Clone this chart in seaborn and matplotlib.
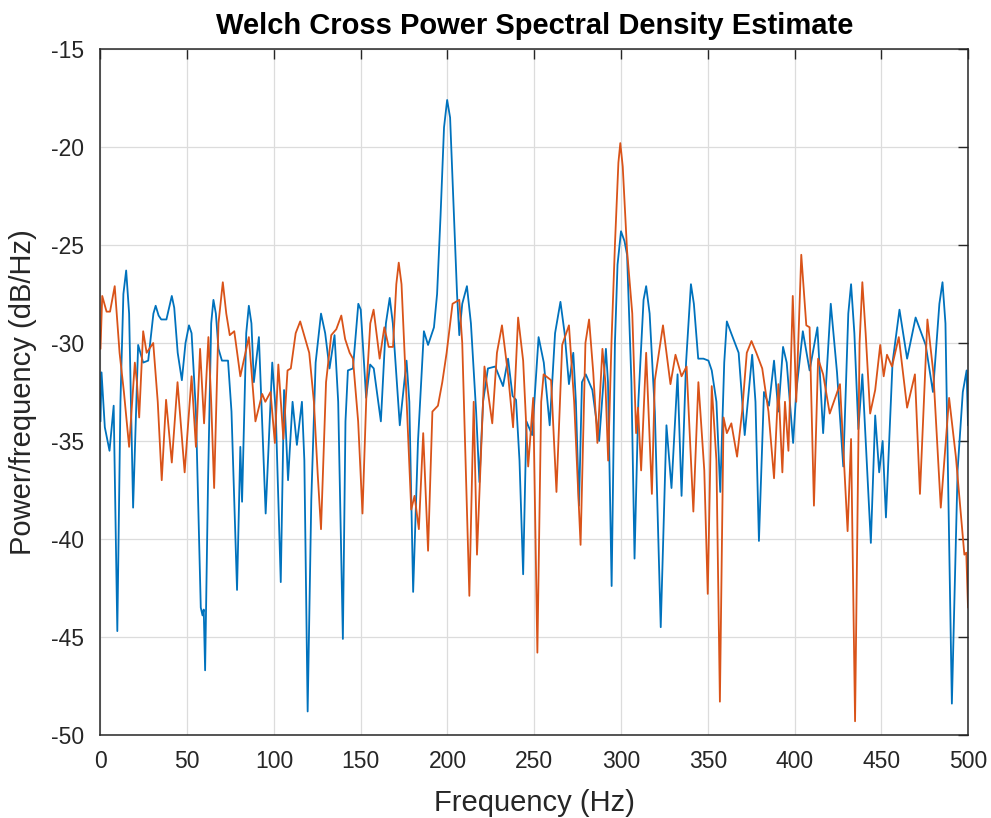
import pandas as pd
import matplotlib.pyplot as plt
import seaborn as sns

# blue curve (Pxy, first channel)
freq_a = [0, 0.6, 2.5, 5.2, 7.6, 9.7, 11.5, 13.2, 14.8, 16.5, 18.8, 21.7, 24.6, 27.5, 30.5, 31.8,
          33.5, 35.0, 38.0, 41.1, 42.5, 44.5, 46.9, 49.0, 51.0, 52.5, 55.0, 57.8, 58.8, 59.5, 60.3,
          62.0, 63.8, 65.1, 66.5, 68.0, 70.0, 73.5, 75.5, 78.7, 80.6, 81.6, 84.0, 85.5, 87.0, 88.4,
          91.3, 95.2, 99.0, 101.0, 103.9, 105.8, 108.1, 110.7, 113.2, 116.1, 117.5, 119.4, 121.5,
          124.0, 127.1, 129.5, 132.0, 134.9, 137.0, 139.7, 141.2, 142.6, 145.5, 148.6, 150.0,
          151.5, 153.1, 155.4, 157.5, 161.6, 164.5, 166.7, 168.5, 172.5, 176.4, 178.0, 180.2,
          183.0, 186.4, 188.8, 192.2, 194.0, 196.0, 198.0, 199.8, 201.5, 203.5, 205.5, 206.8,
          208.5, 211.2, 213.5, 216.5, 218.4, 220.5, 223.3, 227.5, 232.0, 234.9, 237.5, 239.5,
          241.5, 243.6, 245.5, 248.8, 252.5, 255.5, 258.9, 262.0, 265.1, 267.5, 270.0, 272.5,
          274.0, 275.8, 277.5, 279.7, 283.5, 287.4, 291.3, 292.5, 294.6, 296.5, 298.0, 300.0,
          302.0, 303.5, 306.0, 307.8, 310.0, 313.0, 314.5, 316.5, 319.5, 322.9, 326.2, 329.1,
          332.6, 334.9, 337.5, 340.3, 342.0, 344.5, 347.5, 350.4, 352.3, 355.0, 357.2, 359.5,
          361.0, 363.5, 367.8, 371.3, 375.6, 377.5, 379.5, 382.4, 385.3, 388.2, 390.7, 393.4,
          395.5, 399.2, 401.0, 404.8, 408.7, 413.2, 416.5, 420.9, 424.5, 428.1, 431.0, 432.6,
          434.5, 436.8, 439.1, 444.0, 446.5, 448.8, 450.8, 452.7, 456.5, 460.5, 464.9, 469.8,
          475.6, 479.8, 483.5, 485.3, 487.0, 490.7, 494.0, 497.0, 499.2, 500.0]
pxy_a = [-34.0, -31.5, -34.3, -35.5, -33.2, -44.7, -33.0, -27.5, -26.3, -28.5, -38.4, -30.1,
         -31.0, -30.9, -28.5, -28.1, -28.6, -28.8, -28.8, -27.6, -28.2, -30.5, -31.9, -30.0,
         -29.1, -29.5, -33.5, -43.5, -43.9, -43.6, -46.7, -37.0, -29.0, -27.8, -28.5, -30.3,
         -30.9, -30.9, -33.5, -42.6, -35.3, -38.1, -29.5, -28.1, -29.0, -32.0, -29.7, -38.7,
         -31.0, -33.5, -42.2, -32.4, -37.0, -33.0, -35.2, -33.0, -36.0, -48.8, -38.0, -31.0,
         -28.5, -29.5, -31.3, -29.6, -33.0, -45.1, -34.0, -31.4, -31.3, -28.0, -28.3, -30.5,
         -32.8, -31.1, -31.3, -34.0, -29.0, -27.7, -29.0, -34.2, -30.9, -33.0, -42.7, -35.0,
         -29.4, -30.1, -29.2, -27.5, -23.5, -19.0, -17.6, -18.5, -23.0, -27.5, -29.6, -28.0,
         -27.1, -29.0, -33.5, -37.1, -33.0, -31.3, -31.2, -32.2, -30.8, -32.7, -32.9, -36.0,
         -41.8, -34.0, -34.7, -29.7, -31.0, -34.2, -29.5, -27.9, -29.5, -32.1, -30.5, -33.0,
         -38.3, -32.0, -31.6, -32.4, -35.0, -30.3, -32.0, -42.4, -30.0, -26.0, -24.3, -24.8,
         -25.5, -32.0, -41.0, -33.0, -27.8, -27.1, -28.5, -33.5, -44.5, -34.2, -37.4, -31.6,
         -37.8, -31.0, -27.0, -28.0, -30.8, -30.8, -30.9, -31.4, -33.0, -37.6, -31.0, -28.9,
         -29.5, -30.5, -34.7, -30.6, -33.0, -40.1, -32.5, -33.2, -30.9, -33.5, -30.2, -31.0,
         -35.1, -32.5, -29.4, -31.4, -29.2, -34.6, -28.0, -31.5, -36.3, -28.5, -27.0, -29.5,
         -34.4, -31.6, -40.2, -33.7, -36.6, -35.0, -38.9, -31.0, -28.3, -30.8, -28.7, -30.1,
         -32.5, -28.0, -26.9, -29.0, -48.4, -36.5, -32.5, -31.4, -34.2]

# orange curve (second channel)
freq_b = [0, 1.0, 3.5, 5.5, 8.2, 11.0, 13.5, 16.5, 19.8, 21.0, 22.3, 24.6, 26.6, 30.4, 33.0,
          35.3, 37.8, 41.1, 44.4, 48.5, 52.5, 55.0, 57.4, 59.7, 62.2, 63.8, 65.5, 68.0, 70.5,
          72.5, 74.5, 77.1, 80.6, 85.5, 89.3, 93.2, 95.0, 98.0, 100.5, 102.5, 105.4, 107.8,
          109.7, 112.5, 115.1, 118.0, 120.3, 123.0, 125.2, 127.1, 130.0, 133.0, 135.9, 138.8,
          141.0, 143.6, 145.5, 148.5, 151.0, 153.5, 155.5, 157.4, 160.9, 163.6, 166.1, 168.6,
          170.5, 171.9, 173.5, 175.5, 179.1, 181.0, 183.5, 186.0, 188.8, 191.3, 194.5, 197.0,
          199.5, 202.9, 206.8, 208.5, 212.6, 215.1, 217.0, 221.3, 225.8, 228.5, 231.4, 234.9,
          237.8, 240.7, 243.6, 246.5, 249.4, 251.8, 254.0, 255.4, 259.7, 262.8, 266.1, 270.0,
          273.0, 276.7, 279.5, 281.6, 284.0, 286.4, 289.3, 291.0, 292.6, 294.5, 296.5, 298.5,
          299.6, 301.0, 303.5, 306.5, 308.7, 309.8, 311.6, 314.5, 317.8, 319.5, 324.2, 328.5,
          331.4, 334.9, 337.8, 341.7, 344.6, 348.0, 350.0, 352.3, 355.0, 357.0, 359.1, 361.0,
          363.6, 366.9, 369.8, 372.5, 375.2, 378.0, 381.4, 385.0, 388.2, 390.7, 393.0, 394.5,
          396.5, 399.0, 401.0, 403.9, 406.8, 408.7, 411.2, 413.6, 416.5, 420.3, 426.2, 430.6,
          432.6, 434.9, 437.5, 439.1, 441.0, 443.6, 446.5, 449.4, 451.4, 453.3, 456.2, 460.1,
          464.9, 469.4, 472.3, 476.6, 480.0, 484.3, 489.1, 493.0, 497.9, 499.0, 500.0]
pxy_b = [-30.3, -27.6, -28.4, -28.4, -27.1, -30.5, -32.5, -35.3, -31.0, -32.0, -33.8, -29.4,
         -30.5, -30.0, -33.0, -37.0, -32.9, -36.1, -32.0, -36.6, -31.7, -35.3, -30.3, -34.1,
         -29.7, -33.0, -37.4, -29.0, -26.9, -28.5, -29.6, -29.4, -31.7, -29.7, -34.0, -32.6,
         -33.0, -32.5, -35.1, -31.1, -34.9, -31.4, -31.3, -29.5, -28.9, -29.8, -30.5, -33.0,
         -36.7, -39.5, -32.0, -29.6, -29.3, -28.6, -29.8, -30.5, -30.8, -34.0, -38.7, -32.0,
         -29.0, -28.3, -30.8, -29.2, -30.2, -30.2, -27.0, -25.9, -27.0, -31.0, -38.5, -37.8,
         -39.5, -34.6, -40.6, -33.5, -33.2, -32.0, -30.5, -28.0, -27.8, -30.0, -42.9, -33.0,
         -40.8, -31.2, -34.1, -30.5, -29.1, -31.6, -34.3, -28.7, -30.9, -36.3, -32.8, -45.8,
         -33.0, -31.6, -31.9, -37.6, -30.1, -29.1, -33.0, -40.3, -30.0, -28.8, -31.5, -35.1,
         -30.3, -32.0, -36.0, -30.0, -25.0, -20.8, -19.8, -21.0, -25.3, -28.5, -34.6, -33.3,
         -36.5, -30.5, -37.7, -31.9, -29.1, -32.1, -30.6, -31.7, -31.2, -38.6, -32.0, -36.5,
         -42.8, -32.2, -36.0, -48.3, -33.8, -34.6, -34.1, -35.8, -33.5, -30.5, -29.9, -30.5,
         -31.3, -33.5, -36.9, -32.1, -36.6, -33.0, -35.5, -27.6, -33.0, -25.5, -29.1, -29.2,
         -38.3, -30.8, -31.6, -33.6, -32.1, -39.6, -34.9, -49.3, -30.0, -26.9, -29.5, -33.6,
         -32.4, -30.1, -31.7, -30.6, -31.2, -29.7, -33.3, -31.6, -37.7, -28.8, -31.5, -38.4,
         -32.8, -35.8, -40.8, -40.7, -43.5]

x_ticks = list(range(0, 501, 50))
y_ticks = list(range(-50, -14, 5))

df = pd.concat([
    pd.DataFrame({'Frequency': freq_a, 'Pxy': pxy_a, 'series': 'a'}),
    pd.DataFrame({'Frequency': freq_b, 'Pxy': pxy_b, 'series': 'b'}),
])

sns.set_style("whitegrid")
plt.rcParams['font.family'] = ['Liberation Sans', 'DejaVu Sans']
plt.rcParams['axes.unicode_minus'] = False
ink = '#262626'

fig = plt.figure(figsize=(9.91, 8.18), dpi=100)
ax = fig.add_axes([0.1014, 0.1015, 0.8754, 0.8386])
sns.lineplot(data=df, x='Frequency', y='Pxy', hue='series', estimator=None, sort=False,
             palette=['#0072BD', '#D95319'], linewidth=1.3, legend=False, ax=ax)

ax.set_xlim(0, 500)
ax.set_ylim(-50, -15)
ax.set_xticks(x_ticks)
ax.set_yticks(y_ticks)
ax.grid(True, color='#dcdcdc', linewidth=0.9)
ax.tick_params(direction='in', length=7, width=1, colors=ink, labelsize=16.5,
               top=True, right=True, labelcolor=ink)
ax.tick_params(axis='x', pad=11)
ax.tick_params(axis='y', pad=12)
for s in ax.spines.values():
    s.set_color(ink)
    s.set_linewidth(1.1)
ax.set_title('Welch Cross Power Spectral Density Estimate', fontsize=21, fontweight='bold',
             color='black', pad=11)
ax.set_xlabel('Frequency (Hz)', fontsize=21, color=ink, labelpad=11)
ax.set_ylabel('Power/frequency (dB/Hz)', fontsize=21, color=ink, labelpad=10)

plt.savefig('out.png', dpi=100)
plt.close()
